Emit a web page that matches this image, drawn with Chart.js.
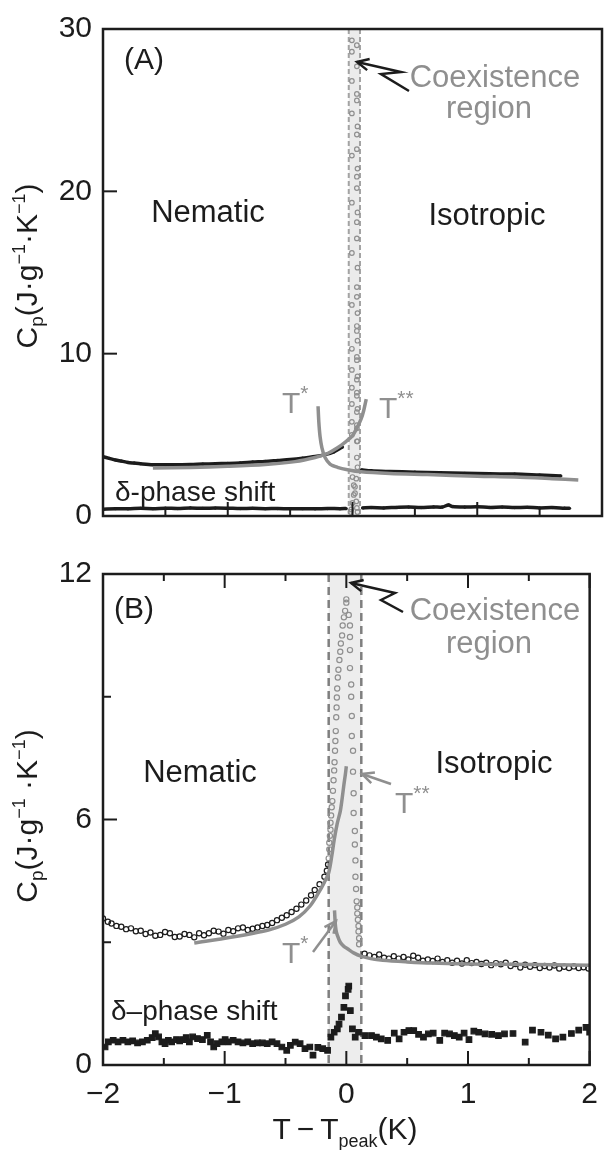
<!DOCTYPE html>
<html>
<head>
<meta charset="utf-8">
<script src="https://cdn.jsdelivr.net/npm/chart.js@4.4.1/dist/chart.umd.min.js"></script>
<style>
body { margin: 0; background: #fff; }
canvas { display: block; }
</style>
</head>
<body>
<canvas id="chartA" width="610" height="545"></canvas>
<canvas id="chartB" width="610" height="605"></canvas>
<script>
const FONT = '"Liberation Sans", Arial, Helvetica, sans-serif';
const INK = '#1c1c1c';
const GRAY = '#8f8f8f';

// shared x axis (T - Tpeak, K)
const xTickVals = [-2, -1.5, -1, -0.5, 0, 0.5, 1, 1.5, 2];
const yTicksA = [10, 20, 30];
const yTicksB = [3, 6, 9, 12];

// coexistence region bounds
const coexA = [-0.03, 0.06];
const coexB = [-0.145, 0.123];

// ---------- panel A ----------
const aNematic = [[-2.0, 3.65], [-1.95, 3.55], [-1.9, 3.45], [-1.85, 3.38], [-1.8, 3.3], [-1.75, 3.26], [-1.7, 3.22],
  [-1.6, 3.16], [-1.5, 3.15], [-1.4, 3.16], [-1.3, 3.17], [-1.2, 3.2], [-1.1, 3.22], [-1.0, 3.24], [-0.9, 3.27],
  [-0.8, 3.32], [-0.7, 3.36], [-0.6, 3.42], [-0.5, 3.48], [-0.4, 3.56], [-0.3, 3.66], [-0.22, 3.78], [-0.15, 3.95], [-0.08, 4.25]];
const aIsotropic = [[0.07, 2.85], [0.15, 2.78], [0.3, 2.74], [0.5, 2.7], [0.7, 2.66], [0.9, 2.63], [1.1, 2.6],
  [1.3, 2.58], [1.5, 2.52], [1.67, 2.47]];
const aCoexLeft = [29.3, 29.0, 28.6, 27.7, 26.8, 26.0, 24.8, 23.5, 22.2, 20.9, 19.3, 18.1, 16.2, 14.1, 13.0, 11.4,
  10.3, 9.8, 9.0, 8.4, 7.9, 7.4, 6.9, 6.4, 5.8, 5.4, 5.0, 4.6];
const aCoexRight = [25.6, 24.0, 22.6, 21.4, 20.2, 18.7, 17.1, 15.3, 13.5, 12.5, 11.7, 10.8, 9.6, 8.6, 7.6, 6.6,
  5.6, 4.6, 3.6, 3.0];
const aCoexLow = [[0.0, 2.4], [0.01, 1.9], [0.02, 1.4], [0.03, 0.9], [0.035, 0.5], [0.03, 2.3], [0.02, 1.8],
  [0.01, 1.3], [0.0, 0.8], [-0.01, 0.4], [0.04, 0.25], [-0.015, 0.25]];
const aFitNem = [[-1.6, 2.95], [-1.3, 2.99], [-1.0, 3.06], [-0.7, 3.17], [-0.46, 3.35], [-0.3, 3.6], [-0.2, 3.85],
  [-0.12, 4.2], [-0.05, 4.6], [0.0, 4.95], [0.04, 5.5], [0.07, 6.0], [0.09, 6.5], [0.11, 7.2]];
const aFitIso = [[-0.276, 6.76], [-0.27, 5.8], [-0.26, 4.9], [-0.245, 4.2], [-0.22, 3.6], [-0.18, 3.2], [-0.12, 3.0],
  [-0.04, 2.85], [0.07, 2.72], [0.3, 2.62], [0.6, 2.55], [1.0, 2.45], [1.3, 2.4], [1.6, 2.3], [1.81, 2.22]];
const aShiftLeft = [[-2.0, 0.42], [-1.9, 0.45], [-1.8, 0.44], [-1.7, 0.47], [-1.6, 0.45], [-1.5, 0.48], [-1.4, 0.46],
  [-1.3, 0.5], [-1.2, 0.47], [-1.1, 0.49], [-1.0, 0.48], [-0.9, 0.46], [-0.8, 0.47], [-0.7, 0.45], [-0.6, 0.46],
  [-0.5, 0.44], [-0.4, 0.45], [-0.3, 0.44], [-0.2, 0.46], [-0.1, 0.45], [-0.05, 0.46]];
const aShiftRight = [[0.08, 0.5], [0.15, 0.52], [0.25, 0.5], [0.35, 0.53], [0.45, 0.55], [0.55, 0.52], [0.65, 0.56],
  [0.72, 0.55], [0.77, 0.68], [0.8, 0.58], [0.9, 0.55], [1.0, 0.57], [1.1, 0.53], [1.2, 0.55], [1.3, 0.52],
  [1.4, 0.54], [1.5, 0.5], [1.6, 0.52], [1.7, 0.48], [1.74, 0.47]];

// ---------- panel B ----------
const bNematic = [[-2.0, 3.58], [-1.96, 3.5], [-1.93, 3.46], [-1.89, 3.4], [-1.85, 3.38], [-1.81, 3.32], [-1.77, 3.34],
  [-1.73, 3.27], [-1.69, 3.28], [-1.65, 3.2], [-1.61, 3.24], [-1.57, 3.16], [-1.53, 3.18], [-1.49, 3.25], [-1.45, 3.22],
  [-1.41, 3.13], [-1.37, 3.14], [-1.33, 3.2], [-1.29, 3.18], [-1.25, 3.12], [-1.21, 3.22], [-1.17, 3.17], [-1.13, 3.22],
  [-1.09, 3.28], [-1.05, 3.26], [-1.01, 3.21], [-0.97, 3.3], [-0.93, 3.27], [-0.89, 3.34], [-0.85, 3.36], [-0.81, 3.3],
  [-0.77, 3.33], [-0.73, 3.36], [-0.69, 3.4], [-0.65, 3.42], [-0.61, 3.47], [-0.57, 3.54], [-0.53, 3.6], [-0.49, 3.66],
  [-0.45, 3.74], [-0.41, 3.82], [-0.37, 3.92], [-0.33, 4.02], [-0.29, 4.15], [-0.26, 4.28], [-0.22, 4.42], [-0.18, 4.6],
  [-0.16, 4.75], [-0.15, 4.9]];
const bIsotropic = [[0.15, 2.72], [0.19, 2.68], [0.23, 2.64], [0.27, 2.7], [0.31, 2.62], [0.35, 2.6], [0.39, 2.66],
  [0.43, 2.6], [0.47, 2.64], [0.51, 2.58], [0.55, 2.67], [0.59, 2.62], [0.63, 2.55], [0.67, 2.58], [0.71, 2.54],
  [0.75, 2.6], [0.79, 2.52], [0.83, 2.56], [0.87, 2.5], [0.91, 2.55], [0.95, 2.48], [0.99, 2.56], [1.03, 2.49],
  [1.07, 2.52], [1.11, 2.47], [1.15, 2.5], [1.19, 2.44], [1.23, 2.49], [1.27, 2.46], [1.31, 2.5], [1.35, 2.42],
  [1.39, 2.47], [1.43, 2.38], [1.47, 2.45], [1.51, 2.4], [1.55, 2.44], [1.59, 2.37], [1.63, 2.42], [1.67, 2.38],
  [1.71, 2.43], [1.75, 2.36], [1.79, 2.4], [1.83, 2.37], [1.87, 2.41], [1.91, 2.37], [1.95, 2.39], [1.99, 2.36]];
const bCoexLeft = [[-0.145, 5.05], [-0.14, 5.27], [-0.14, 5.43], [-0.135, 5.6], [-0.13, 5.75], [-0.13, 5.92],
  [-0.125, 6.1], [-0.12, 6.3], [-0.115, 6.45], [-0.11, 6.7], [-0.105, 6.96], [-0.1, 7.2], [-0.097, 7.4], [-0.093, 7.68],
  [-0.09, 7.92], [-0.087, 8.16], [-0.083, 8.5], [-0.08, 8.74], [-0.078, 8.98], [-0.075, 9.2], [-0.07, 9.47],
  [-0.065, 9.66], [-0.057, 9.9], [-0.05, 10.1], [-0.045, 10.3], [-0.035, 10.5], [-0.03, 10.74], [-0.02, 10.94],
  [-0.01, 11.1], [0.0, 11.3], [0.0, 11.38]];
const bCoexRight = [[0.02, 11.0], [0.03, 10.74], [0.03, 10.46], [0.03, 10.14], [0.03, 9.7], [0.04, 9.3], [0.04, 9.0],
  [0.045, 8.53], [0.045, 8.04], [0.055, 7.68], [0.055, 7.17], [0.06, 6.64], [0.06, 6.16], [0.07, 5.72], [0.07, 5.39],
  [0.075, 5.0], [0.075, 4.6], [0.08, 4.3], [0.085, 4.0], [0.09, 3.85], [0.09, 3.7], [0.095, 3.55], [0.1, 3.4],
  [0.1, 3.26], [0.105, 3.1], [0.105, 2.95]];
const bFitNem = [[-1.25, 2.98], [-0.95, 3.12], [-0.64, 3.3], [-0.5, 3.44], [-0.39, 3.62], [-0.3, 3.88], [-0.23, 4.2],
  [-0.18, 4.47], [-0.145, 4.7], [-0.12, 5.1], [-0.1, 5.5], [-0.075, 5.9], [-0.05, 6.2], [-0.035, 6.5], [-0.02, 6.85],
  [-0.008, 7.1], [0.0, 7.3]];
const bFitIso = [[-0.097, 3.78], [-0.092, 3.5], [-0.085, 3.3], [-0.075, 3.18], [-0.05, 3.0], [-0.02, 2.9], [0.01, 2.84],
  [0.06, 2.74], [0.12, 2.66], [0.2, 2.6], [0.3, 2.56], [0.5, 2.52], [0.7, 2.49], [1.0, 2.47], [1.34, 2.46],
  [1.7, 2.45], [2.0, 2.44]];
const bShift = [[-1.983, 0.44], [-1.956, 0.565], [-1.916, 0.605], [-1.876, 0.565], [-1.836, 0.605], [-1.796, 0.565],
  [-1.756, 0.59], [-1.716, 0.54], [-1.676, 0.565], [-1.636, 0.605], [-1.596, 0.67], [-1.57, 0.765], [-1.543, 0.685],
  [-1.516, 0.565], [-1.49, 0.52], [-1.463, 0.605], [-1.436, 0.565], [-1.396, 0.62], [-1.37, 0.59], [-1.343, 0.62],
  [-1.316, 0.67], [-1.29, 0.565], [-1.263, 0.685], [-1.223, 0.645], [-1.183, 0.62], [-1.143, 0.725], [-1.116, 0.565],
  [-1.09, 0.44], [-1.063, 0.52], [-1.023, 0.565], [-0.996, 0.62], [-0.97, 0.565], [-0.93, 0.605], [-0.89, 0.565],
  [-0.85, 0.54], [-0.81, 0.565], [-0.77, 0.52], [-0.73, 0.54], [-0.69, 0.54], [-0.65, 0.52], [-0.61, 0.565],
  [-0.57, 0.52], [-0.53, 0.44], [-0.49, 0.36], [-0.46, 0.48], [-0.42, 0.56], [-0.38, 0.52], [-0.34, 0.4],
  [-0.3, 0.44], [-0.274, 0.24], [-0.234, 0.43], [-0.194, 0.4], [-0.154, 0.36], [-0.127, 0.68], [-0.1, 0.8],
  [-0.074, 0.885], [-0.06, 1.0], [-0.04, 1.17], [-0.02, 1.41], [-0.007, 1.69], [0.015, 1.85], [0.02, 1.93],
  [0.033, 1.33], [0.05, 0.885], [0.073, 0.68], [0.1, 0.8], [0.153, 0.72], [0.207, 0.72], [0.247, 0.68], [0.287, 0.64],
  [0.34, 0.6], [0.394, 0.78], [0.434, 0.64], [0.474, 0.8], [0.514, 0.84], [0.554, 0.84], [0.594, 0.75], [0.634, 0.68],
  [0.674, 0.76], [0.714, 0.78], [0.768, 0.6], [0.808, 0.78], [0.848, 0.76], [0.888, 0.72], [0.928, 0.68],
  [0.968, 0.78], [1.008, 0.62], [1.048, 0.83], [1.088, 0.8], [1.14, 0.76], [1.195, 0.75], [1.25, 0.72], [1.3, 0.76],
  [1.37, 0.77], [1.47, 0.56], [1.53, 0.85], [1.6, 0.8], [1.66, 0.73], [1.72, 0.64], [1.78, 0.68], [1.85, 0.77],
  [1.91, 0.85], [1.97, 0.92], [2.0, 0.8]];

const pts = arr => arr.map(([x, y]) => ({x, y}));
const column = (x0, x1, ys) => ys.map((y, i) => ({x: i % 2 ? x1 : x0, y}));

function markers(data, color, radius, style, order) {
  return {
    data, order, showLine: false, pointStyle: style || 'circle', pointRadius: radius,
    pointBorderColor: color, pointBorderWidth: 1.2,
    pointBackgroundColor: style === 'rect' ? color : 'rgba(0,0,0,0)',
  };
}
function curve(data, color, width, dotR, order) {
  return {
    data, order, showLine: true, borderColor: color, borderWidth: width, tension: 0.3,
    pointRadius: dotR, pointBackgroundColor: color, pointBorderColor: color, pointBorderWidth: 0,
  };
}

// draws text made of pieces (sub/superscripts)
function rich(ctx, parts, x, y, align) {
  let total = 0;
  parts.forEach(p => { ctx.font = p.size + 'px ' + FONT; p.w = ctx.measureText(p.t).width; total += p.w; });
  let cx = align === 'center' ? x - total / 2 : x;
  parts.forEach(p => {
    ctx.font = p.size + 'px ' + FONT;
    ctx.fillText(p.t, cx, y + (p.dy || 0));
    cx += p.w;
  });
}
function text(ctx, t, x, y, color, size, align) {
  ctx.fillStyle = color;
  ctx.font = (size || 30) + 'px ' + FONT;
  ctx.textAlign = align || 'center';
  ctx.textBaseline = 'alphabetic';
  ctx.fillText(t, x, y);
}
function arrow(ctx, path, color, width) {
  ctx.save();
  ctx.strokeStyle = color; ctx.lineWidth = width; ctx.lineJoin = 'miter';
  ctx.beginPath();
  path.forEach(([x, y], i) => i ? ctx.lineTo(x, y) : ctx.moveTo(x, y));
  ctx.stroke();
  const [tx, ty] = path[path.length - 1];
  const [px, py] = path[path.length - 2];
  const a = Math.atan2(ty - py, tx - px);
  ctx.beginPath();
  ctx.moveTo(tx - 13 * Math.cos(a - 0.45), ty - 13 * Math.sin(a - 0.45));
  ctx.lineTo(tx, ty);
  ctx.lineTo(tx - 13 * Math.cos(a + 0.45), ty - 13 * Math.sin(a + 0.45));
  ctx.stroke();
  ctx.restore();
}
function yTitle(ctx, cx, cy, spaced) {
  ctx.save();
  ctx.translate(cx, cy);
  ctx.rotate(-Math.PI / 2);
  ctx.fillStyle = INK;
  ctx.textAlign = 'left';
  ctx.textBaseline = 'alphabetic';
  rich(ctx, [
    {t: 'C', size: 30}, {t: 'p', size: 19, dy: 6}, {t: '(J\u00b7g', size: 30}, {t: '\u22121', size: 18, dy: -12},
    {t: spaced ? ' \u00b7K' : '\u00b7K', size: 30}, {t: '\u22121', size: 18, dy: -12}, {t: ')', size: 30},
  ], 0, 10, 'center');
  ctx.restore();
}

function panelPlugin(spec) {
  return {
    id: 'panel' + spec.name,
    beforeDatasetsDraw(chart) {
      const {ctx, chartArea: a, scales: {x}} = chart;
      const l = x.getPixelForValue(spec.coex[0]);
      const r = x.getPixelForValue(spec.coex[1]);
      ctx.save();
      ctx.fillStyle = spec.shade;
      ctx.fillRect(l, a.top, r - l, a.bottom - a.top);
      ctx.strokeStyle = spec.dashColor;
      ctx.lineWidth = spec.dashWidth;
      ctx.setLineDash(spec.dash);
      [l, r].forEach(px => { ctx.beginPath(); ctx.moveTo(px, a.top); ctx.lineTo(px, a.bottom); ctx.stroke(); });
      ctx.restore();
    },
    afterDatasetsDraw(chart) {
      const {ctx, chartArea: a, scales: {x, y}} = chart;
      ctx.save();
      ctx.strokeStyle = INK;
      ctx.lineWidth = 2.5;
      ctx.strokeRect(a.left, a.top, a.right - a.left, a.bottom - a.top);
      ctx.lineWidth = 2;
      xTickVals.forEach(v => {
        const px = x.getPixelForValue(v);
        const len = Number.isInteger(v) ? 14 : 7;
        ctx.beginPath(); ctx.moveTo(px, a.bottom); ctx.lineTo(px, a.bottom - len); ctx.stroke();
        if (spec.topTicks) { ctx.beginPath(); ctx.moveTo(px, a.top); ctx.lineTo(px, a.top + len); ctx.stroke(); }
      });
      spec.yTicks.forEach(v => {
        const py = y.getPixelForValue(v);
        const len = v % spec.yMajor === 0 ? 14 : 8;
        ctx.beginPath(); ctx.moveTo(a.left, py); ctx.lineTo(a.left + len, py); ctx.stroke();
      });
      ctx.restore();
      spec.draw(ctx);
    },
  };
}

function options(yMax, yStep, yLabel, showX, xHeight, padTop) {
  return {
    responsive: false,
    animation: false,
    events: [],
    layout: {padding: {top: padTop, right: 8, bottom: 0, left: 0}},
    plugins: {legend: {display: false}, tooltip: {enabled: false}},
    scales: {
      x: {
        type: 'linear', min: -2, max: 2,
        grid: {display: false, drawTicks: false}, border: {display: false},
        ticks: {
          display: showX, stepSize: 1, padding: 12, color: INK, font: {family: FONT, size: 30},
          callback: v => String(v).replace('-', '\u2212'),
        },
        afterFit: s => { s.height = xHeight; },
      },
      y: {
        type: 'linear', min: 0, max: yMax,
        grid: {display: false, drawTicks: false}, border: {display: false},
        ticks: {stepSize: yStep, padding: 11, color: INK, font: {family: FONT, size: 30}, callback: yLabel},
        afterFit: s => { s.width = 103; },
      },
    },
  };
}

// ---------- chart A ----------
new Chart(document.getElementById('chartA'), {
  type: 'line',
  data: {
    datasets: [
      curve(pts(aFitNem), GRAY, 3.5, 0, 1),
      curve(pts(aFitIso), GRAY, 3.5, 0, 1),
      markers(column(-0.005, 0.035, aCoexLeft), GRAY, 2.3, 'circle', 2),
      markers(column(0.035, 0.04, aCoexRight), GRAY, 2.3, 'circle', 2),
      markers(pts(aCoexLow), GRAY, 2.3, 'circle', 2),
      curve(pts(aNematic), INK, 3.5, 1.6, 3),
      curve(pts(aIsotropic), INK, 3.5, 1.6, 3),
      curve(pts(aShiftLeft), INK, 3.5, 1.6, 3),
      curve(pts(aShiftRight), INK, 3.5, 1.6, 3),
    ],
  },
  options: options(30, 10, v => v, false, 27, 24),
  plugins: [panelPlugin({
    name: 'A', coex: coexA, shade: '#ebebeb', dashColor: '#a3a3a3', dashWidth: 2, dash: [5, 3],
    topTicks: false, yTicks: yTicksA, yMajor: 10,
    draw(ctx) {
      text(ctx, '(A)', 144, 69, INK);
      text(ctx, 'Nematic', 208, 222, INK, 31);
      text(ctx, 'Isotropic', 487, 225, INK, 31);
      text(ctx, 'Coexistence', 495, 87, GRAY, 31);
      text(ctx, 'region', 489, 118, GRAY, 31);
      text(ctx, '\u03b4-phase shift', 115, 501, INK, 28, 'left');
      arrow(ctx, [[409, 91], [381, 74], [401, 72], [357, 62]], INK, 2.5);
      ctx.fillStyle = GRAY; ctx.textAlign = 'left';
      rich(ctx, [{t: 'T', size: 30}, {t: '*', size: 21, dy: -13}], 282, 413, 'left');
      rich(ctx, [{t: 'T', size: 30}, {t: '**', size: 21, dy: -13}], 379, 418, 'left');
      yTitle(ctx, 27, 266, false);
    },
  })],
});

// ---------- chart B ----------
const OFF = 545;
new Chart(document.getElementById('chartB'), {
  type: 'line',
  data: {
    datasets: [
      curve(pts(bFitNem), GRAY, 3.5, 0, 1),
      curve(pts(bFitIso), GRAY, 3.5, 0, 1),
      markers(pts(bCoexLeft), GRAY, 2.6, 'circle', 2),
      markers(pts(bCoexRight), GRAY, 2.6, 'circle', 2),
      markers(pts(bNematic), INK, 2.6, 'circle', 3),
      markers(pts(bIsotropic), INK, 2.6, 'circle', 3),
      markers(pts(bShift), INK, 3.9, 'rect', 3),
    ],
  },
  options: options(12, 3, v => (v % 6 === 0 ? v : ''), true, 85, 23),
  plugins: [panelPlugin({
    name: 'B', coex: coexB, shade: '#ededed', dashColor: '#7f7f7f', dashWidth: 2.5, dash: [8, 5],
    topTicks: true, yTicks: yTicksB, yMajor: 6,
    draw(ctx) {
      text(ctx, '(B)', 134, 618 - OFF, INK);
      text(ctx, 'Nematic', 200, 782 - OFF, INK, 31);
      text(ctx, 'Isotropic', 494, 773 - OFF, INK, 31);
      text(ctx, 'Coexistence', 495, 620 - OFF, GRAY, 31);
      text(ctx, 'region', 489, 653 - OFF, GRAY, 31);
      text(ctx, '\u03b4\u2013phase shift', 111, 1020 - OFF, INK, 28, 'left');
      arrow(ctx, [[403, 612 - OFF], [381, 600 - OFF], [395, 593 - OFF], [351, 583 - OFF]], INK, 2.5);
      arrow(ctx, [[391, 784 - OFF], [362, 774 - OFF]], GRAY, 2.5);
      arrow(ctx, [[313, 952 - OFF], [336, 921 - OFF]], GRAY, 2.5);
      ctx.fillStyle = GRAY; ctx.textAlign = 'left';
      rich(ctx, [{t: 'T', size: 30}, {t: '**', size: 21, dy: -13}], 395, 813 - OFF, 'left');
      rich(ctx, [{t: 'T', size: 30}, {t: '*', size: 21, dy: -13}], 282, 963 - OFF, 'left');
      ctx.fillStyle = INK;
      rich(ctx, [{t: 'T\u2009\u2212\u2009T', size: 30}, {t: 'peak', size: 18, dy: 8}, {t: '(K)', size: 30}],
        345, 1139 - OFF, 'center');
      yTitle(ctx, 27, 816 - OFF, true);
    },
  })],
});
</script>
</body>
</html>
